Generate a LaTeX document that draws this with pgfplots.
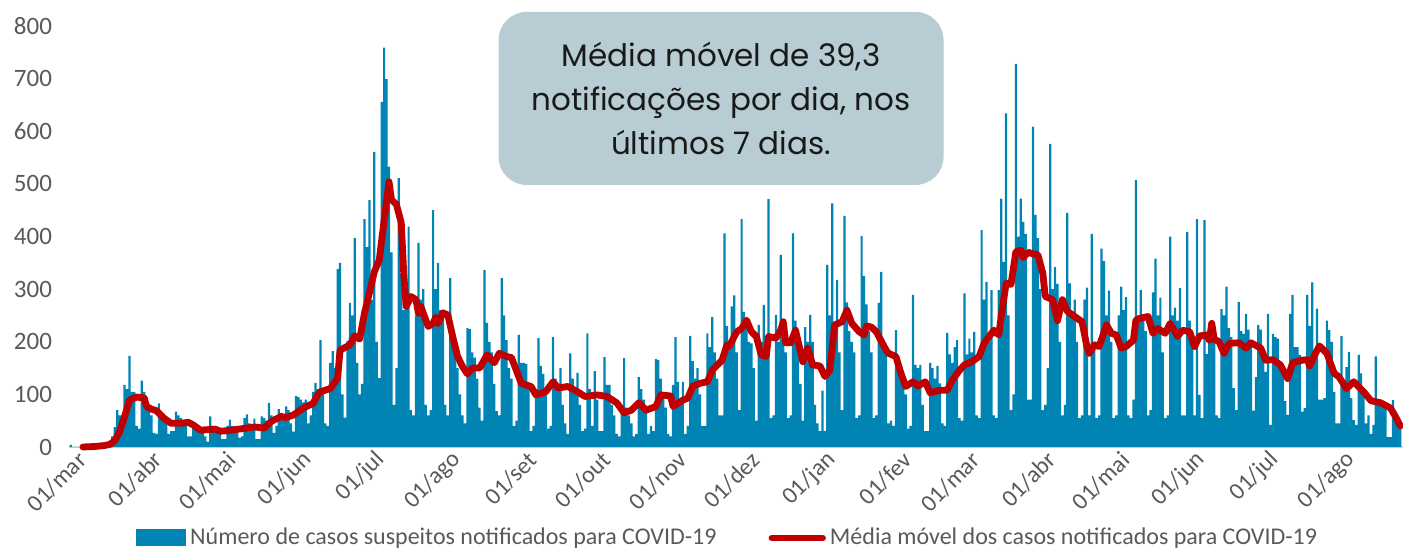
\documentclass[border=0pt]{standalone}
\usepackage{fontspec}
\setmainfont{Carlito}
\newfontfamily\boxfont{Poppins}
\usepackage{pgfplots}
\usepackage{pgfplotstable}
\pgfplotsset{compat=1.18}
\definecolor{barblue}{HTML}{0084B4}
\definecolor{avgred}{HTML}{C00000}
\definecolor{boxfill}{HTML}{B7CDD3}
\definecolor{labgray}{HTML}{595959}
\definecolor{axgray}{HTML}{D9D9D9}

\pgfplotstableread[row sep=\\, header=false]{
4\\0\\0\\0\\0\\0\\0\\
0\\0\\1\\0\\1\\0\\0\\
2\\3\\10\\20\\38\\70\\60\\
45\\118\\110\\173\\105\\105\\40\\
35\\126\\105\\95\\70\\60\\27\\
25\\83\\65\\55\\50\\25\\30\\
30\\67\\60\\55\\50\\45\\20\\
20\\45\\40\\38\\35\\30\\20\\
10\\58\\40\\35\\30\\28\\15\\
15\\40\\52\\40\\35\\30\\18\\
20\\55\\62\\45\\40\\54\\15\\
15\\58\\55\\50\\84\\60\\27\\
40\\72\\65\\60\\77\\70\\45\\
29\\97\\95\\90\\85\\90\\45\\
60\\105\\122\\110\\203\\110\\45\\
40\\160\\182\\150\\338\\350\\100\\
56\\201\\274\\250\\397\\160\\100\\
120\\433\\380\\469\\280\\561\\200\\
131\\656\\759\\699\\533\\370\\80\\
150\\511\\330\\260\\300\\419\\70\\
60\\250\\388\\280\\300\\80\\60\\
70\\450\\300\\350\\260\\250\\80\\
60\\321\\200\\180\\150\\100\\60\\
45\\226\\224\\180\\170\\130\\75\\
50\\336\\236\\200\\180\\120\\68\\
60\\321\\250\\203\\150\\130\\40\\
50\\213\\160\\160\\158\\120\\30\\
40\\110\\207\\154\\139\\110\\35\\
40\\209\\130\\120\\150\\80\\45\\
25\\178\\130\\110\\141\\80\\30\\
35\\216\\110\\40\\144\\90\\30\\
30\\171\\118\\118\\80\\60\\25\\
20\\80\\169\\75\\60\\45\\20\\
25\\133\\110\\90\\70\\25\\40\\
30\\167\\165\\130\\100\\75\\25\\
20\\118\\209\\124\\90\\124\\25\\
40\\211\\163\\130\\150\\100\\40\\
40\\216\\190\\247\\180\\130\\60\\
60\\406\\230\\200\\267\\288\\180\\
70\\433\\257\\230\\200\\197\\150\\
50\\232\\200\\270\\180\\471\\55\\
60\\251\\200\\365\\220\\180\\55\\
60\\406\\240\\200\\120\\50\\228\\
200\\251\\200\\80\\45\\30\\107\\
30\\346\\250\\463\\200\\317\\180\\
70\\439\\275\\220\\200\\180\\55\\
60\\401\\325\\271\\220\\180\\55\\
60\\274\\333\\200\\180\\45\\50\\
40\\222\\150\\140\\120\\100\\35\\
40\\289\\156\\150\\156\\80\\30\\
30\\160\\150\\130\\154\\121\\45\\
40\\217\\176\\160\\190\\203\\55\\
50\\292\\176\\206\\180\\219\\60\\
55\\412\\280\\314\\200\\298\\60\\
55\\298\\472\\352\\634\\250\\70\\
100\\728\\400\\472\\428\\405\\90\\
90\\609\\441\\397\\300\\70\\80\\
150\\576\\300\\342\\310\\200\\60\\
80\\445\\311\\250\\280\\200\\55\\
60\\280\\303\\60\\405\\200\\55\\
60\\377\\353\\250\\297\\200\\55\\
60\\250\\305\\260\\285\\60\\55\\
90\\507\\250\\298\\250\\220\\60\\
70\\294\\358\\250\\284\\180\\55\\
60\\400\\250\\265\\240\\302\\60\\
60\\409\\240\\200\\60\\433\\99\\
55\\431\\177\\235\\230\\203\\60\\
55\\262\\250\\305\\226\\209\\112\\
70\\276\\220\\215\\253\\223\\190\\
69\\133\\232\\223\\171\\143\\253\\
42\\215\\209\\206\\150\\144\\87\\
61\\253\\289\\190\\190\\175\\67\\
74\\289\\230\\313\\180\\263\\90\\
90\\93\\240\\222\\200\\105\\45\\
45\\211\\127\\152\\181\\93\\51\\
42\\175\\140\\110\\45\\60\\25\\
42\\172\\90\\85\\80\\75\\19\\
19\\89\\55\\45\\39\\
}\bars

\pgfplotstableread[row sep=\\, header=false]{
5 0\\10 1\\14 3\\16 5\\18 12\\20 29\\22 58\\24 89\\26 93\\27 95\\30 93\\31 77\\33 72\\35 69\\38 55\\41 45\\45 45\\48 47\\50 42\\53 32\\56 33\\59 34\\61 30\\64 31\\67 33\\72 36\\75 38\\79 36\\82 49\\86 58\\88 56\\91 61\\95 74\\99 83\\101 100\\102 105\\106 111\\109 131\\110 184\\114 194\\116 211\\118 205\\120 255\\122 293\\124 333\\126 355\\128 431\\130 504\\131 470\\133 461\\135 426\\136 330\\137 267\\139 286\\141 280\\142 254\\143 267\\146 229\\148 235\\149 246\\150 235\\152 255\\154 251\\156 210\\158 172\\160 153\\162 139\\164 150\\167 150\\170 175\\173 160\\175 178\\178 172\\180 170\\184 121\\188 115\\190 99\\194 105\\197 124\\199 112\\203 115\\207 105\\210 96\\215 99\\219 96\\223 84\\226 65\\229 70\\232 84\\235 70\\239 77\\241 99\\245 97\\246 77\\250 89\\252 93\\254 115\\257 121\\260 124\\262 146\\266 165\\268 194\\269 192\\272 219\\274 225\\276 241\\278 219\\280 210\\282 175\\284 172\\285 210\\288 207\\290 222\\291 238\\292 198\\294 198\\296 222\\299 162\\301 188\\303 156\\306 154\\308 134\\310 146\\312 232\\315 238\\317 260\\319 235\\322 219\\324 213\\325 230\\327 228\\329 219\\333 184\\334 178\\337 172\\339 141\\341 115\\344 124\\346 116\\349 124\\351 103\\355 108\\358 108\\360 127\\363 146\\365 156\\368 162\\371 172\\373 197\\377 222\\379 213\\380 248\\382 311\\384 309\\386 371\\388 374\\389 360\\391 370\\393 367\\395 365\\397 330\\398 286\\401 280\\403 240\\405 280\\407 258\\410 248\\413 238\\415 191\\416 178\\418 194\\420 191\\423 232\\425 216\\427 213\\429 188\\431 191\\434 203\\435 241\\437 245\\440 248\\442 216\\444 225\\447 216\\449 235\\451 219\\452 210\\454 222\\457 219\\459 191\\461 211\\464 213\\465 203\\466 235\\467 205\\469 200\\471 178\\473 197\\477 198\\480 188\\482 198\\486 188\\488 165\\491 166\\494 156\\497 130\\499 160\\503 165\\505 166\\506 154\\508 175\\510 192\\513 178\\516 140\\518 133\\521 111\\524 124\\528 105\\531 88\\535 84\\539 74\\541 58\\543 40\\
}\avg

\begin{document}
\begin{tikzpicture}
\begin{axis}[
  scale only axis, width=667pt, height=210.5pt,
  xmin=-0.7, xmax=544.1, ymin=0, ymax=800,
  axis x line*=bottom, axis y line*=left,
  x axis line style={axgray, line width=0.9pt},
  y axis line style={draw=none},
  major tick length=0pt,
  ytick={0,100,...,800},
  xtick={0,31,61,92,122,153,184,214,245,275,306,337,365,396,426,457,487,518},
  xticklabels={01/mar,01/abr,01/mai,01/jun,01/jul,01/ago,01/set,01/out,01/nov,01/dez,01/jan,01/fev,01/mar,01/abr,01/mai,01/jun,01/jul,01/ago},
  xticklabel style={rotate=45, anchor=east, inner sep=0pt, yshift=-7.5pt, xshift=1pt, font=\fontsize{12}{14}\selectfont, text=labgray},
  yticklabel style={font=\fontsize{12.5}{14}\selectfont, text=labgray, xshift=-5pt},
  /pgf/number format/assume math mode=true,
  legend style={at={(0.4945,-0.216)}, anchor=center, draw=none, fill=none,
    font=\fontsize{12}{14}\selectfont, text=labgray, inner sep=0pt,
    nodes={inner sep=2pt},
    /tikz/every even column/.append style={column sep=24pt}},
  legend columns=2,
  clip=false,
]
\addplot[ybar, bar width=0.9, fill=barblue, draw=none,
  legend image code/.code={\fill[barblue] (0pt,-4.25pt) rectangle (25pt,4.25pt);}]
  table[x expr=\coordindex, y index=0] {\bars};
\addlegendentry{Número de casos suspeitos notificados para COVID-19}
\addplot[avgred, line width=3.4pt, line join=round, line cap=round,
  legend image code/.code={\draw[avgred, line width=3.4pt, line cap=round] (1.7pt,0pt) -- (27pt,0pt);}]
  table[x index=0, y index=1] {\avg};
\addlegendentry{Média móvel dos casos notificados para COVID-19}
\node[fill=boxfill, rounded corners=14pt, minimum width=222.5pt, minimum height=86.5pt,
  align=center, inner sep=0pt, text=black!90,
  font=\boxfont\fontsize{15.5}{22}\selectfont] at (axis description cs:0.4888,0.828)
  {Média móvel de 39,3\\notificações por dia, nos\\últimos 7 dias.};
\end{axis}
\pgfresetboundingbox
\useasboundingbox (-34.5pt,-50.5pt) rectangle (667pt,223.5pt);
\end{tikzpicture}
\end{document}
